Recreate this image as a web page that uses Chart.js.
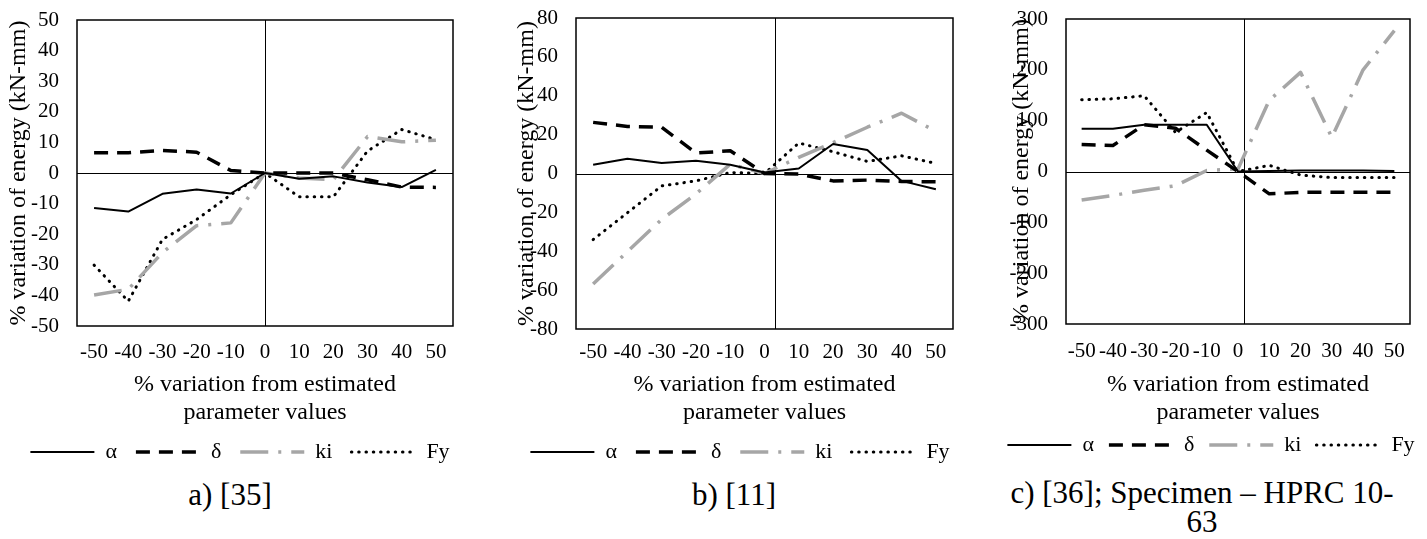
<!DOCTYPE html>
<html>
<head>
<meta charset="utf-8">
<script src="https://cdn.jsdelivr.net/npm/chart.js@4.4.1/dist/chart.umd.min.js"></script>
<style>
  body { margin: 0; background: #fff; width: 1427px; height: 539px; position: relative; overflow: hidden;
         font-family: 'Liberation Serif', 'Times New Roman', serif; color: #000; }
  .box { position: absolute; top: 0; }
  .box canvas { display: block; }
  .cap { position: absolute; font-size: 31px; line-height: 29px; text-align: center; }
</style>
</head>
<body>
<div class="box" style="left:0px"><canvas id="chartA"></canvas></div>
<div class="box" style="left:500px"><canvas id="chartB"></canvas></div>
<div class="box" style="left:985px"><canvas id="chartC"></canvas></div>

<div class="cap" style="left:0px;top:480px;width:460px">a) [35]</div>
<div class="cap" style="left:484px;top:480px;width:500px">b) [11]</div>
<div class="cap" style="left:968px;top:478px;width:468px">c) [36]; Specimen – HPRC 10-<br>63</div>

<script>
// % variation from estimated parameter values
const xLabels = [-50, -40, -30, -20, -10, 0, 10, 20, 30, 40, 50];

// a) [35]
const alphaA = [-11.4, -12.6, -6.8, -5.4, -6.7, 0, -1.9, -1.1, -3.1, -4.6, 1.0];
const deltaA = [6.6, 6.6, 7.4, 6.8, 0.8, 0, 0, 0, -2.2, -4.6, -4.7];
const kiA    = [-39.9, -38.0, -26.0, -17.2, -16.3, 0, -1.6, -2.2, 11.9, 10.2, 10.7];
const fyA    = [-30.1, -41.9, -21.7, -15.2, -7.1, 0, -7.8, -7.8, 7.2, 14.2, 10.9];
const yTicksA = [-50, -40, -30, -20, -10, 0, 10, 20, 30, 40, 50];

// b) [11]
const alphaB = [4.5, 7.6, 5.4, 6.6, 4.5, 0.5, 2.6, 15.2, 12.1, -3.8, -8.1];
const deltaB = [26.3, 24.2, 23.8, 10.5, 11.7, 0, -0.3, -3.8, -3.4, -4.1, -4.3];
const kiB    = [-56.9, -40.2, -23.6, -10.5, 4.8, 0, 8.3, 15.9, 23.8, 31.0, 21.7];
const fyB    = [-34.0, -20.2, -6.4, -3.8, 0.5, 0, 15.7, 11.2, 6.2, 9.1, 5.2];
const yTicksB = [-80, -60, -40, -20, 0, 20, 40, 60, 80];

// c) [36]; Specimen - HPRC 10-63
const alphaC = [84, 84, 92, 92, 92, 0, 1, 2, 2, 2, 1];
const deltaC = [53, 51, 92, 85, 42, 0, -44, -41, -41, -41, -41];
const kiC    = [-56, -47, -37, -28, 2, 5, 140, 195, 67, 200, 277];
const fyC    = [141, 143, 149, 77, 116, 0, 12, -7, -12, -12, -12];
const yTicksC = [-300, -200, -100, 0, 100, 200, 300];

const FONT = "'Liberation Serif', 'Times New Roman', serif";
Chart.defaults.font.family = FONT;
Chart.defaults.color = '#000';

const GREY = '#a6a6a6';

function lineSets(alpha, delta, ki, fy) {
  const base = { pointRadius: 0, pointStyle: 'line', tension: 0, fill: false, borderJoinStyle: 'round' };
  return [
    { ...base, label: 'α', data: alpha, borderColor: '#000', borderWidth: 2, borderDash: [] },
    { ...base, label: 'δ', data: delta, borderColor: '#000', borderWidth: 3.5, borderDash: [14, 9] },
    { ...base, label: 'ki', data: ki, borderColor: GREY, borderWidth: 3.5, borderDash: [28, 10, 3, 10] },
    { ...base, label: 'Fy', data: fy, borderColor: '#000', borderWidth: 3, borderDash: [0.5, 6.8], borderCapStyle: 'round' }
  ];
}

// box round the plot plus the two axis lines through (crossAt, 0)
const frameLines = {
  id: 'frameLines',
  beforeDatasetsDraw(chart, args, opts) {
    const { ctx, chartArea: a, scales: { x, y } } = chart;
    ctx.save();
    ctx.strokeStyle = '#000';
    ctx.lineWidth = 1;
    const y0 = Math.round(y.getPixelForValue(0)) + 0.5;
    const x0 = Math.round(x.getPixelForValue(opts.crossAt)) + 0.5;
    ctx.beginPath();
    ctx.moveTo(a.left, y0); ctx.lineTo(a.right, y0);
    ctx.moveTo(x0, a.top); ctx.lineTo(x0, a.bottom);
    ctx.stroke();
    ctx.lineWidth = 1.5;
    ctx.strokeRect(a.left, a.top, a.right - a.left, a.bottom - a.top);
    ctx.restore();
  }
};

// legend samples take the dash of the line, not of the (hidden) points
function legendItems(chart) {
  const items = Chart.defaults.plugins.legend.labels.generateLabels(chart);
  return items.map(it => {
    const ds = chart.data.datasets[it.datasetIndex];
    return { ...it, lineDash: ds.borderDash, lineCap: ds.borderCapStyle || 'butt', lineWidth: ds.borderWidth };
  });
}

function makeChart(id, datasets, yTicks, lay) {
  const legendTop = lay.legendMid - lay.legendPad - 11;
  const xH = legendTop - lay.plotBottom;
  const xTitlePad = legendTop - 14 - lay.titleMid;
  const H = legendTop + 22 + lay.legendPad + 10;

  const canvas = document.getElementById(id);
  canvas.width = lay.width;
  canvas.height = H;

  return new Chart(canvas, {
    type: 'line',
    data: { labels: xLabels, datasets: datasets },
    options: {
      responsive: false,
      animation: false,
      layout: { padding: { top: lay.plotTop, left: 0, right: 0, bottom: 0 } },
      scales: {
        x: {
          type: 'category',
          offset: true,
          grid: { display: false, drawTicks: false },
          border: { display: false },
          ticks: { autoSkip: false, maxRotation: 0, minRotation: 0, padding: lay.xTickPad, font: { size: 21 } },
          title: {
            display: true,
            text: ['% variation from estimated', 'parameter values'],
            font: { size: 24, lineHeight: 1.1667 },
            padding: { top: 0, bottom: xTitlePad }
          },
          afterFit: (s) => { s.height = xH; }
        },
        y: {
          min: yTicks[0],
          max: yTicks[yTicks.length - 1],
          grid: { display: false, drawTicks: false },
          border: { display: false },
          ticks: { autoSkip: false, padding: 18, font: { size: 21 } },
          afterBuildTicks: (s) => { s.ticks = yTicks.map(v => ({ value: v })); },
          title: {
            display: true,
            text: '% variation of energy (kN-mm)',
            font: { size: 24, lineHeight: 1.1667 },
            padding: { top: lay.yTitlePad, bottom: 0 }
          },
          afterFit: (s) => { s.width = lay.yW; s.paddingTop = 0; s.paddingBottom = 0; }
        },
        // empty spacer on the right so the legend can use the full canvas width
        spacer: {
          type: 'linear',
          position: 'right',
          grid: { display: false, drawTicks: false },
          border: { display: false },
          ticks: { display: false },
          afterFit: (s) => { s.width = lay.rightW; s.paddingTop = 0; s.paddingBottom = 0; }
        }
      },
      plugins: {
        frameLines: { crossAt: lay.crossAt },
        legend: {
          position: 'bottom',
          labels: {
            usePointStyle: true,
            pointStyleWidth: 64,
            padding: lay.legendPad,
            color: '#000',
            font: { size: 22 },
            generateLabels: legendItems
          }
        },
        tooltip: { enabled: false }
      }
    },
    plugins: [frameLines]
  });
}

function draw() {
  makeChart('chartA', lineSets(alphaA, deltaA, kiA, fyA), yTicksA, {
    width: 480, plotTop: 20, plotBottom: 326, yW: 77, rightW: 27, yTitlePad: 5, xTickPad: 14,
    legendPad: 19, legendMid: 452, titleMid: 413, crossAt: 5
  });
  makeChart('chartB', lineSets(alphaB, deltaB, kiB, fyB), yTicksB, {
    width: 480, plotTop: 18, plotBottom: 329, yW: 76, rightW: 27, yTitlePad: 13, xTickPad: 11,
    legendPad: 19, legendMid: 452, titleMid: 413, crossAt: 5.32
  });
  makeChart('chartC', lineSets(alphaC, deltaC, kiC, fyC), yTicksC, {
    width: 452, plotTop: 19, plotBottom: 324, yW: 81, rightW: 27, yTitlePad: 23, xTickPad: 15,
    legendPad: 15, legendMid: 445, titleMid: 413, crossAt: 5.2
  });
}

document.fonts.load("21px 'Liberation Serif'").then(draw, draw);
</script>
</body>
</html>
